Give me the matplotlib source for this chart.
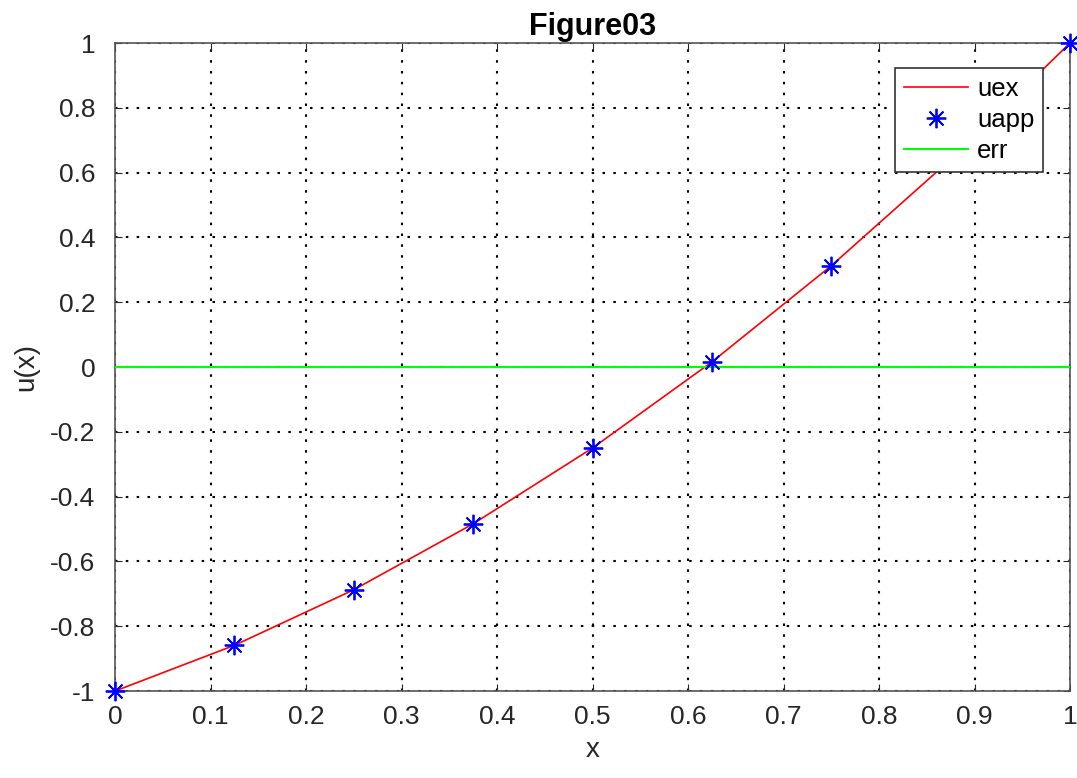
import matplotlib
matplotlib.use("Agg")
import matplotlib.pyplot as plt

plt.rcParams['font.family'] = ['Liberation Sans', 'DejaVu Sans']

x_vals = [0.0, 0.125, 0.25, 0.375, 0.5, 0.625, 0.75, 0.875, 1.0]
uex_vals = [-1.0, -0.859, -0.6875, -0.484, -0.25, 0.0156, 0.3125, 0.6406, 1.0]
uapp_vals = [-1.0, -0.859, -0.6875, -0.484, -0.25, 0.0156, 0.3125, 0.6406, 1.0]
err_vals = [0.0, 0.0, 0.0, 0.0, 0.0, 0.0, 0.0, 0.0, 0.0]

x_ticks = [0, 0.1, 0.2, 0.3, 0.4, 0.5, 0.6, 0.7, 0.8, 0.9, 1]
x_ticklabels = ['0', '0.1', '0.2', '0.3', '0.4', '0.5', '0.6', '0.7', '0.8', '0.9', '1']
y_ticks = [-1, -0.8, -0.6, -0.4, -0.2, 0, 0.2, 0.4, 0.6, 0.8, 1]
y_ticklabels = ['-1', '-0.8', '-0.6', '-0.4', '-0.2', '0', '0.2', '0.4', '0.6', '0.8', '1']

fig = plt.figure(figsize=(10.77, 7.78), dpi=100)
ax = fig.add_axes([0.1068, 0.1118, 0.8867, 0.8329])

ax.plot(x_vals, uex_vals, color='red', lw=1.2, label='uex', zorder=3)
ax.plot(x_vals, uapp_vals, linestyle='none', marker=(8, 2, 0), markersize=14,
        markeredgecolor='blue', markerfacecolor='blue', markeredgewidth=1.3,
        label='uapp', zorder=4, clip_on=False)
ax.plot(x_vals, err_vals, color='#00ff00', lw=1.5, label='err', zorder=3)

ax.set_xlim(0, 1)
ax.set_ylim(-1, 1)
ax.set_xticks(x_ticks)
ax.set_xticklabels(x_ticklabels)
ax.set_yticks(y_ticks)
ax.set_yticklabels(y_ticklabels)
ax.tick_params(direction='in', length=5, labelsize=19, colors='#262626',
               top=True, right=True)
ax.tick_params(axis='x', pad=10)
ax.tick_params(axis='y', pad=14)
for s in ax.spines.values():
    s.set_color('#555555')
    s.set_linewidth(1.2)

ax.grid(True, color='black', linestyle=(0, (1.2, 4)), linewidth=1.5)
ax.set_axisbelow(True)

ax.set_title('Figure03', fontsize=22, fontweight='bold', pad=6)
ax.set_xlabel('x', fontsize=20, color='#262626', labelpad=6)
ax.set_ylabel('u(x)', fontsize=20, color='#262626', labelpad=8)

leg = ax.legend(loc='upper right', bbox_to_anchor=(0.972, 0.962), fontsize=18.5,
                fancybox=False, framealpha=1, edgecolor='#333333',
                handlelength=2.5, borderpad=0.35, labelspacing=0.28,
                handletextpad=0.35, borderaxespad=0)
leg.get_frame().set_linewidth(1.2)
leg.set_zorder(10)

fig.savefig('out.png', dpi=100)
